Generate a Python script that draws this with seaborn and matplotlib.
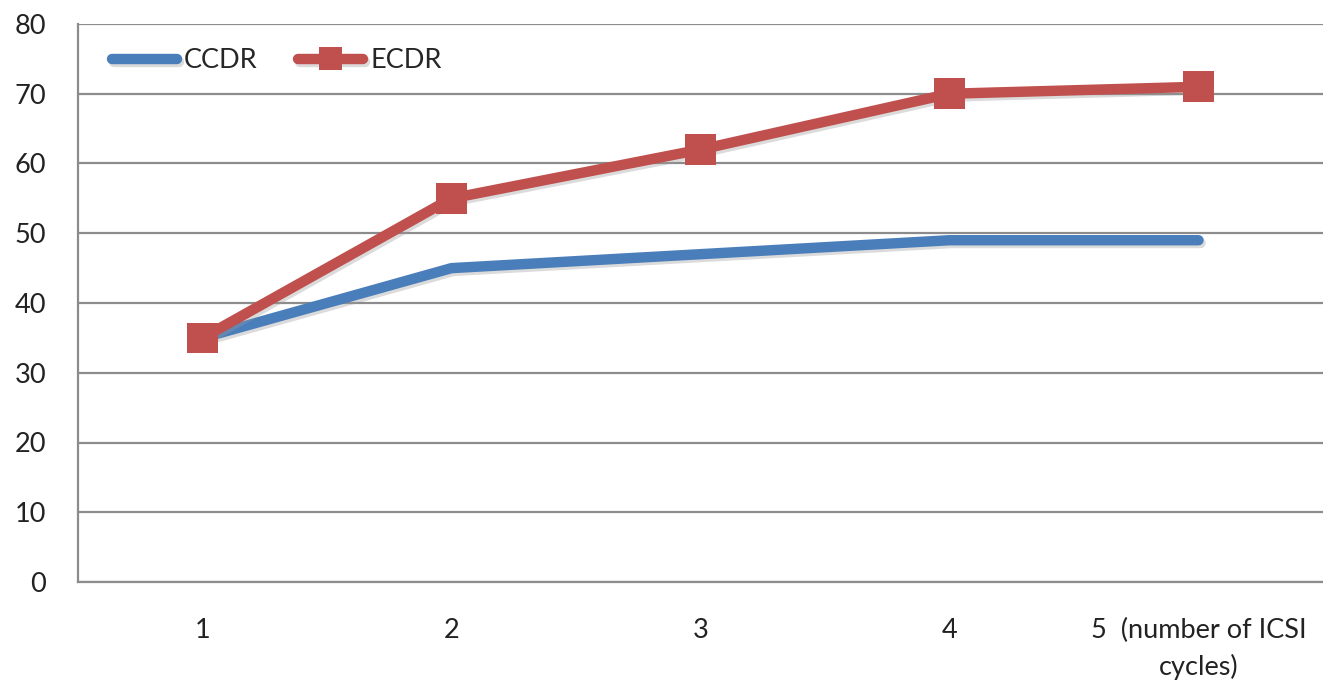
import matplotlib
matplotlib.use("Agg")
import matplotlib.pyplot as plt
import matplotlib.patheffects as pe
import seaborn as sns
import pandas as pd

cycles = [1, 2, 3, 4, 5]
tick_labels = ["1", "2", "3", "4", "5  (number of ICSI\ncycles)"]
ccdr = [35, 45, 47, 49, 49]
ecdr = [35, 55, 62, 70, 71]

sns.set_theme(style="white")
plt.rcParams["font.family"] = ["Lato", "DejaVu Sans"]

df = pd.DataFrame({"cycle": cycles + cycles,
                   "rate": ccdr + ecdr,
                   "series": ["CCDR"] * 5 + ["ECDR"] * 5})

fig = plt.figure(figsize=(13.23, 6.83), dpi=100)
ax = fig.add_axes([78 / 1323, 1 - 582 / 683, 1 - 78 / 1323, (582 - 24) / 683])

shadow = [pe.SimpleLineShadow(offset=(1.5, -2), shadow_color="#999999", alpha=0.35), pe.Normal()]

sns.lineplot(data=df[df.series == "CCDR"], x="cycle", y="rate", ax=ax,
             color="#4a7ebb", linewidth=7.5, solid_capstyle="round",
             label="CCDR", path_effects=shadow)
sns.lineplot(data=df[df.series == "ECDR"], x="cycle", y="rate", ax=ax,
             color="#c0504d", linewidth=7.5, solid_capstyle="round",
             marker="s", markersize=22, markeredgewidth=0,
             label="ECDR", path_effects=shadow)

ax.set_xlim(0.5, 5.5)
ax.set_ylim(0, 80)
ax.set_yticks(range(0, 81, 10))
ax.set_xticks(cycles)
ax.set_xticklabels(tick_labels, linespacing=1.5)
ax.set_xlabel("")
ax.set_ylabel("")
ax.yaxis.grid(True, color="#8c8c8c", linewidth=1.6)
ax.set_axisbelow(True)
for side in ["top", "right"]:
    ax.spines[side].set_visible(False)
for side in ["left", "bottom"]:
    ax.spines[side].set_color("#8c8c8c")
    ax.spines[side].set_linewidth(1.6)
ax.tick_params(axis="both", length=0, labelsize=19.5, colors="#222222")
ax.tick_params(axis="y", pad=23)
ax.tick_params(axis="x", pad=26)

leg = ax.legend(loc="upper left", bbox_to_anchor=(0.008, 1.0), ncol=2, frameon=False,
                fontsize=19.5, handlelength=2.4, handletextpad=0.25, columnspacing=1.5,
                markerscale=0.75)

fig.savefig("out.png", dpi=100)
